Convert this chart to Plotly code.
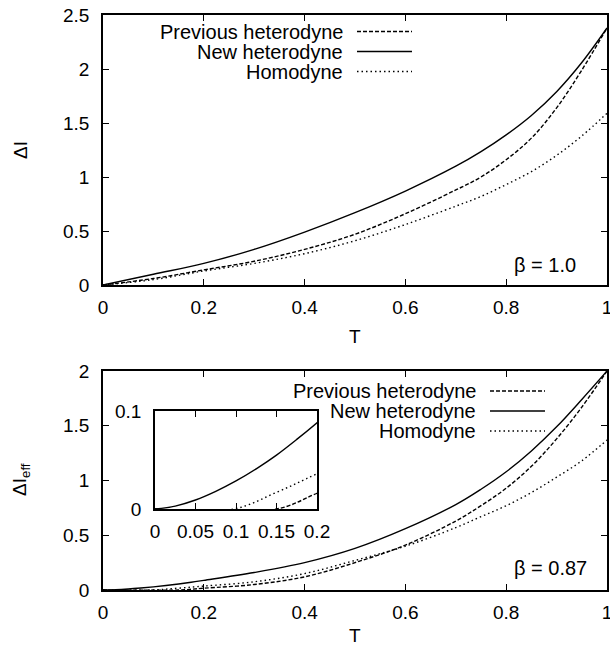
import plotly.graph_objects as go

# ---------------- data ----------------
T_top = [0, 0.1, 0.2, 0.3, 0.4, 0.5, 0.6, 0.7, 0.75, 0.8, 0.85, 0.9, 0.95, 1.0]
top_new = [0, 0.10, 0.20, 0.33, 0.49, 0.67, 0.87, 1.10, 1.235, 1.39, 1.57, 1.79, 2.06, 2.38]
top_prev = [0, 0.06, 0.14, 0.22, 0.33, 0.47, 0.66, 0.88, 1.00, 1.16, 1.36, 1.64, 1.99, 2.38]
top_homo = [0, 0.05, 0.13, 0.20, 0.29, 0.41, 0.56, 0.73, 0.82, 0.93, 1.05, 1.20, 1.38, 1.59]

T_new_b = [0, 0.025, 0.05, 0.075, 0.1, 0.125, 0.15, 0.175, 0.2, 0.3, 0.4, 0.5, 0.6, 0.7, 0.75, 0.8, 0.85, 0.9, 0.95, 1.0]
bot_new = [0, 0.003, 0.0092, 0.018, 0.0286, 0.041, 0.055, 0.071, 0.088, 0.16, 0.25, 0.38, 0.56, 0.78, 0.92, 1.08, 1.27, 1.49, 1.74, 2.0]
T_prev_b = [0, 0.15, 0.2, 0.3, 0.4, 0.5, 0.6, 0.7, 0.75, 0.8, 0.85, 0.9, 0.95, 1.0]
bot_prev = [0, 0.0, 0.016, 0.05, 0.12, 0.25, 0.41, 0.63, 0.77, 0.93, 1.13, 1.38, 1.67, 2.0]
T_homo_b = [0, 0.097, 0.15, 0.2, 0.3, 0.4, 0.5, 0.6, 0.7, 0.75, 0.8, 0.85, 0.9, 0.95, 1.0]
bot_homo = [0, 0.0, 0.017, 0.036, 0.075, 0.15, 0.27, 0.40, 0.57, 0.67, 0.77, 0.89, 1.03, 1.18, 1.37]

series_names = ["Previous heterodyne", "New heterodyne", "Homodyne"]
x_ticks = [0, 0.2, 0.4, 0.6, 0.8, 1.0]
y_ticks_top = [0, 0.5, 1, 1.5, 2, 2.5]
y_ticks_bot = [0, 0.5, 1, 1.5, 2]
inset_x_ticks = [0, 0.05, 0.1, 0.15, 0.2]
inset_y_ticks = [0, 0.1]

# ---------------- layout helpers ----------------
W, H = 610, 647
FONT = "Liberation Sans, Arial, Helvetica, sans-serif"
FS = 19
FS_TXT = 20


def px(x):
    return x / W


def py(y):
    return 1 - y / H


DASHES = {"Previous heterodyne": "4px,2px", "New heterodyne": "solid", "Homodyne": "1.5px,3px"}
LW = 1.4

fig = go.Figure()


def add(x, y, name, xa, ya):
    fig.add_trace(go.Scatter(
        x=x, y=y, mode="lines", name=name, showlegend=False,
        line=dict(color="black", width=LW, dash=DASHES[name], shape="spline", smoothing=1.0),
        xaxis=xa, yaxis=ya, hoverinfo="skip"))


add(T_top, top_prev, "Previous heterodyne", "x", "y")
add(T_top, top_new, "New heterodyne", "x", "y")
add(T_top, top_homo, "Homodyne", "x", "y")

add(T_prev_b, bot_prev, "Previous heterodyne", "x2", "y2")
add(T_new_b, bot_new, "New heterodyne", "x2", "y2")
add(T_homo_b, bot_homo, "Homodyne", "x2", "y2")

add(T_prev_b, bot_prev, "Previous heterodyne", "x3", "y3")
add(T_new_b, bot_new, "New heterodyne", "x3", "y3")
add(T_homo_b, bot_homo, "Homodyne", "x3", "y3")

axis_common = dict(
    showline=True, linecolor="black", linewidth=1.5, mirror="ticks",
    ticks="inside", ticklen=6, tickwidth=1, tickcolor="black",
    showgrid=False, zeroline=False, automargin=False,
    ticklabeloverflow="allow",
    tickfont=dict(family=FONT, size=FS, color="black"),
)

fig.update_layout(
    template="none",
    width=W, height=H, autosize=False,
    margin=dict(l=0, r=0, t=0, b=0, pad=0),
    paper_bgcolor="white", plot_bgcolor="white",
    showlegend=False,
    xaxis=dict(domain=[px(103), px(607)], range=[0, 1], tickvals=x_ticks,
               anchor="y", ticklabelstandoff=4, **axis_common),
    yaxis=dict(domain=[py(285), py(15)], range=[0, 2.5], tickvals=y_ticks_top,
               anchor="x", ticklabelstandoff=8, **axis_common),
    xaxis2=dict(domain=[px(103), px(607)], range=[0, 1], tickvals=x_ticks,
                anchor="y2", ticklabelstandoff=4, **axis_common),
    yaxis2=dict(domain=[py(590), py(371)], range=[0, 2], tickvals=y_ticks_bot,
                anchor="x2", ticklabelstandoff=8, **axis_common),
    xaxis3=dict(domain=[px(155), px(317)], range=[0, 0.2], tickvals=inset_x_ticks,
                anchor="y3", ticklabelstandoff=4, **axis_common),
    yaxis3=dict(domain=[py(509), py(411)], range=[0, 0.1], tickvals=inset_y_ticks,
                anchor="x3", ticklabelstandoff=8, **axis_common),
)

ann = []
shapes = []


def text(x, y, s, xanchor="center", size=FS_TXT, textangle=0):
    ann.append(dict(x=px(x), y=py(y), xref="paper", yref="paper", text=s,
                    showarrow=False, xanchor=xanchor, yanchor="middle",
                    textangle=textangle,
                    font=dict(family=FONT, size=size, color="black")))


# axis titles
text(355, 337, "T", size=FS)
text(355, 635.5, "T", size=FS)
text(21, 150, "ΔI", size=FS, textangle=-90)
text(21, 480, "ΔI<sub>eff</sub>", size=FS, textangle=-90)

# beta labels
text(578, 265, "β = 1.0", xanchor="right")
text(589, 568, "β = 0.87", xanchor="right")

# legends (gnuplot style: text then sample line)
for (tx, lx0, lx1, rows) in [(345, 357, 412, [31.5, 51.5, 71.5]),
                              (478, 490, 545, [391, 411, 431])]:
    for name, yy in zip(series_names, rows):
        text(tx, yy, name, xanchor="right")
        shapes.append(dict(type="line", xref="paper", yref="paper",
                           x0=px(lx0), x1=px(lx1), y0=py(yy), y1=py(yy),
                           line=dict(color="black", width=LW, dash=DASHES[name])))

fig.update_layout(annotations=ann, shapes=shapes)

fig.write_html("out.html",
               config={"responsive": False, "displayModeBar": False},
               post_script="document.body.style.margin='0';document.body.style.overflow='hidden';")
